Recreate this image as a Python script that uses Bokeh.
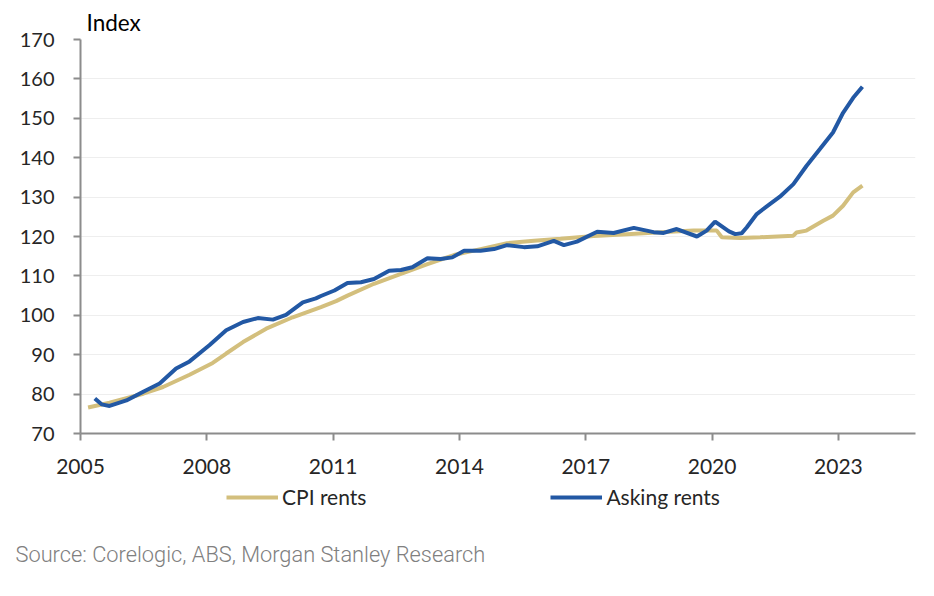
from bokeh.plotting import figure
from bokeh.layouts import column
from bokeh.models import Range1d, FixedTicker, Legend, LegendItem, Title, Label
from bokeh.embed import file_html
from bokeh.resources import INLINE

# Data (decimal year, index value)
cpi_t = [2005.18, 2005.69, 2006.49, 2006.96, 2007.59, 2008.14, 2008.46, 2008.86, 2009.41,
         2010.04, 2010.71, 2011.07, 2011.34, 2011.97, 2012.61, 2013.24, 2013.87, 2014.50,
         2015.13, 2015.77, 2016.40, 2017.19, 2017.98, 2018.77, 2019.56, 2020.11, 2020.23,
         2020.66, 2021.14, 2021.93, 2022.00, 2022.24, 2022.64, 2022.87, 2023.11, 2023.35,
         2023.57]
cpi_v = [76.6, 77.8, 80.1, 81.8, 84.9, 87.9, 90.3, 93.2, 96.6,
         99.5, 102.1, 103.6, 105.0, 108.0, 110.5, 113.0, 115.3, 116.8,
         118.3, 118.9, 119.4, 120.1, 120.6, 121.1, 121.5, 121.5, 119.8,
         119.6, 119.8, 120.2, 121.0, 121.5, 124.0, 125.3, 127.8, 131.2,
         132.9]

ask_t = [2005.34, 2005.50, 2005.69, 2006.09, 2006.49, 2006.88, 2007.27, 2007.59, 2008.06,
         2008.46, 2008.86, 2009.21, 2009.57, 2009.88, 2010.28, 2010.59, 2010.71, 2011.03,
         2011.34, 2011.66, 2011.97, 2012.33, 2012.61, 2012.88, 2013.24, 2013.55, 2013.83,
         2014.11, 2014.50, 2014.82, 2015.13, 2015.53, 2015.85, 2016.24, 2016.48, 2016.79,
         2017.27, 2017.66, 2018.14, 2018.61, 2018.85, 2019.16, 2019.64, 2019.87, 2020.07,
         2020.40, 2020.55, 2020.70, 2020.82, 2021.06, 2021.37, 2021.61, 2021.93, 2022.24,
         2022.56, 2022.87, 2023.11, 2023.35, 2023.57]
ask_v = [78.9, 77.4, 77.0, 78.4, 80.6, 82.7, 86.5, 88.3, 92.4,
         96.2, 98.3, 99.3, 98.9, 100.1, 103.3, 104.3, 104.9, 106.3,
         108.2, 108.4, 109.2, 111.3, 111.5, 112.2, 114.5, 114.3, 114.7,
         116.4, 116.4, 116.8, 117.8, 117.3, 117.5, 118.9, 117.8, 118.7,
         121.2, 120.9, 122.2, 121.1, 120.9, 121.9, 120.0, 121.5, 123.8,
         121.3, 120.6, 120.8, 122.3, 125.7, 128.2, 130.1, 133.3, 137.9,
         142.2, 146.4, 151.4, 155.2, 158.0]

series_names = ["CPI rents", "Asking rents"]
x_ticks = [2005, 2008, 2011, 2014, 2017, 2020, 2023]
y_ticks = [70, 80, 90, 100, 110, 120, 130, 140, 150, 160, 170]

FONT = "Lato"
AXIS_COL = "#8c8c8c"
TXT_COL = "#262626"
CPI_COL = "#d3bf7d"
ASK_COL = "#2258a4"

p = figure(frame_width=835, frame_height=394, output_backend="svg", toolbar_location=None,
           x_range=Range1d(2005, 2024.83), y_range=Range1d(70, 170),
           min_border_left=80, min_border_right=15, min_border_top=39,
           min_border_bottom=0)
p.frame_align = False
p.outline_line_color = None

p.xgrid.visible = False
p.ygrid.grid_line_color = "#eeeeee"
p.ygrid.grid_line_width = 1

for ax in (p.xaxis[0], p.yaxis[0]):
    ax.axis_line_color = AXIS_COL
    ax.axis_line_width = 2
    ax.major_tick_line_color = AXIS_COL
    ax.major_tick_line_width = 2
    ax.major_tick_out = 7
    ax.major_tick_in = 0
    ax.minor_tick_line_color = None
    ax.major_label_text_font = FONT
    ax.major_label_text_font_size = "21px"
    ax.major_label_text_color = TXT_COL

p.yaxis[0].major_label_text_font_size = "20px"
p.xaxis[0].ticker = FixedTicker(ticks=x_ticks)
p.yaxis[0].ticker = FixedTicker(ticks=y_ticks)
p.xaxis[0].major_label_standoff = 18
p.yaxis[0].major_label_standoff = 19

p.line(cpi_t, cpi_v, line_color=CPI_COL, line_width=4)
p.line(ask_t, ask_v, line_color=ASK_COL, line_width=4)

idx = Title(text="Index", align="left", offset=6, text_font=FONT,
            text_font_style="normal", text_font_size="22.5px", text_color="#000000",
            standoff=7)
p.add_layout(idx, "above")

# Footer figure: legend and source note
f = figure(width=930, height=105, output_backend="svg", toolbar_location=None,
           x_range=Range1d(0, 930), y_range=Range1d(0, 105),
           min_border=0)
f.frame_align = False
f.outline_line_color = None
f.axis.visible = False
f.grid.visible = False

# the series drawn again, outside this footer's ranges, as legend proxies
lc = f.line(cpi_t, cpi_v, line_color=CPI_COL, line_width=4)
la = f.line(ask_t, ask_v, line_color=ASK_COL, line_width=4)
legend = Legend(items=[LegendItem(label=series_names[0], renderers=[lc]),
                       LegendItem(label=series_names[1], renderers=[la])],
                orientation="horizontal", location=(226, 72),
                label_text_font=FONT, label_text_font_size="21px",
                label_text_color=TXT_COL, glyph_width=52, glyph_height=20,
                label_standoff=4, spacing=184, padding=0, margin=0,
                border_line_color=None, background_fill_alpha=0)
f.add_layout(legend, "center")

src = Label(text="Source: Corelogic, ABS, Morgan Stanley Research",
            x=15, y=27, x_units="screen", y_units="screen",
            text_font="'Roboto Light', Roboto", text_font_style="normal",
            text_font_size="21.8px", text_color="#808080",
            text_baseline="alphabetic", text_align="left")
f.add_layout(src)

open("out.html", "w").write(file_html(column(p, f, spacing=0), INLINE))
